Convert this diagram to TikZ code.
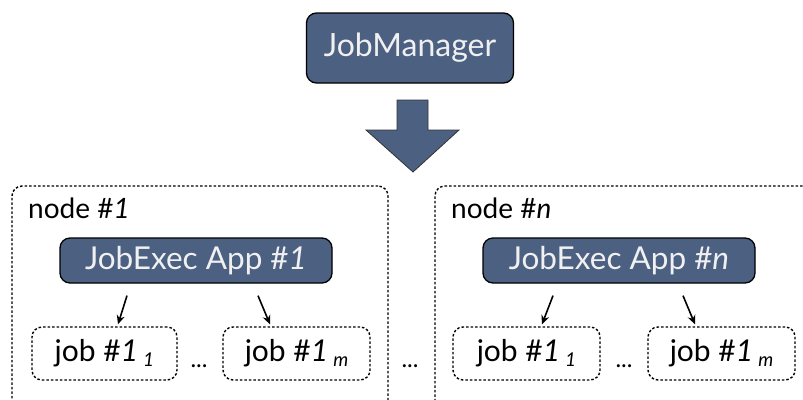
\documentclass[tikz,border=0pt]{standalone}
\usepackage{fontspec}
\setmainfont{Lato}
\usetikzlibrary{arrows.meta,calc}
\definecolor{slate}{RGB}{76,96,130}
\definecolor{lighttext}{RGB}{240,240,240}
\tikzset{
  bluebox/.style={draw=black,line width=1.3pt,fill=slate,rounded corners=10pt,text=lighttext,inner sep=0pt},
  hostbox/.style={draw=black,line width=1.4pt,dash pattern=on 2.5pt off 2pt,rounded corners=10pt,inner sep=0pt},
  jobbox/.style={draw=black,line width=1.4pt,dash pattern=on 2.5pt off 2pt,rounded corners=10pt,inner sep=0pt,font=\fontsize{30}{32}\selectfont},
  hostlabel/.style={anchor=base west,inner sep=0pt,font=\fontsize{28}{30}\selectfont},
  dotslabel/.style={inner sep=0pt,font=\fontsize{24}{26}\selectfont},
  smallarrow/.style={line width=1.6pt,-{Stealth[length=9pt,width=8pt]}},
}
\newcommand{\sub}[1]{\raisebox{-5pt}{\fontsize{19}{20}\selectfont\itshape #1}}
\begin{document}
\begin{tikzpicture}[x=1pt,y=-1pt]
\useasboundingbox (0,0) rectangle (803,399);
\clip (0,0) rectangle (803,399);
% JobManager
\node[bluebox,minimum width=207pt,minimum height=70pt,font=\fontsize{32}{36}\selectfont] (jm) at (410,48) {JobManager};
% big arrow
\draw[fill=slate,draw=black!80,line width=0.8pt] (397,100) -- (428,100) -- (428,130) -- (459,130) -- (413,172) -- (366,130) -- (397,130) -- cycle;
% host boxes
\node[hostbox,minimum width=376pt,minimum height=240pt] (host1) at (200,306) {};
\node[hostbox,minimum width=400pt,minimum height=240pt] (hostn) at (635,306) {};
\node[hostlabel] (lab1) at (28,218) {node \#\textit{1}};
\node[hostlabel] (labn) at (451,218) {node \#\textit{n}};
% apps
\node[bluebox,minimum width=272pt,minimum height=45pt,font=\fontsize{31.5}{34}\selectfont] (app1) at (196,260.5) {JobExec App \#\textit{1}};
\node[bluebox,minimum width=272pt,minimum height=45pt,font=\fontsize{31.5}{34}\selectfont] (appn) at (619,260.5) {JobExec App \#\textit{n}};
% jobs
\node[jobbox,minimum width=145pt,minimum height=53pt] (j11) at (104.5,353.5) {job \#\textit{1}\,\sub{1}};
\node[jobbox,minimum width=147pt,minimum height=53pt] (j1m) at (296.5,353.5) {job \#\textit{1}\,\sub{m}};
\node[jobbox,minimum width=147pt,minimum height=53pt] (jn1) at (526.5,353.5) {job \#\textit{1}\,\sub{1}};
\node[jobbox,minimum width=147pt,minimum height=53pt] (jnm) at (721.5,353.5) {job \#\textit{1}\,\sub{m}};
% dots
\node[dotslabel] (d1) at (199,366) {...};
\node[dotslabel] (d2) at (410,366) {...};
\node[dotslabel] (d3) at (624,366) {...};
% small arrows
\draw[smallarrow] ([xshift=-69pt,yshift=-12pt]app1.south) -- ([xshift=13.5pt,yshift=2pt]j11.north);
\draw[smallarrow] ([xshift=62pt,yshift=-12pt]app1.south) -- ([xshift=-26.5pt,yshift=2pt]j1m.north);
\draw[smallarrow] ([xshift=-66pt,yshift=-12pt]appn.south) -- ([xshift=15.5pt,yshift=2pt]jn1.north);
\draw[smallarrow] ([xshift=64pt,yshift=-12pt]appn.south) -- ([xshift=-26.5pt,yshift=2pt]jnm.north);
\end{tikzpicture}
\end{document}
